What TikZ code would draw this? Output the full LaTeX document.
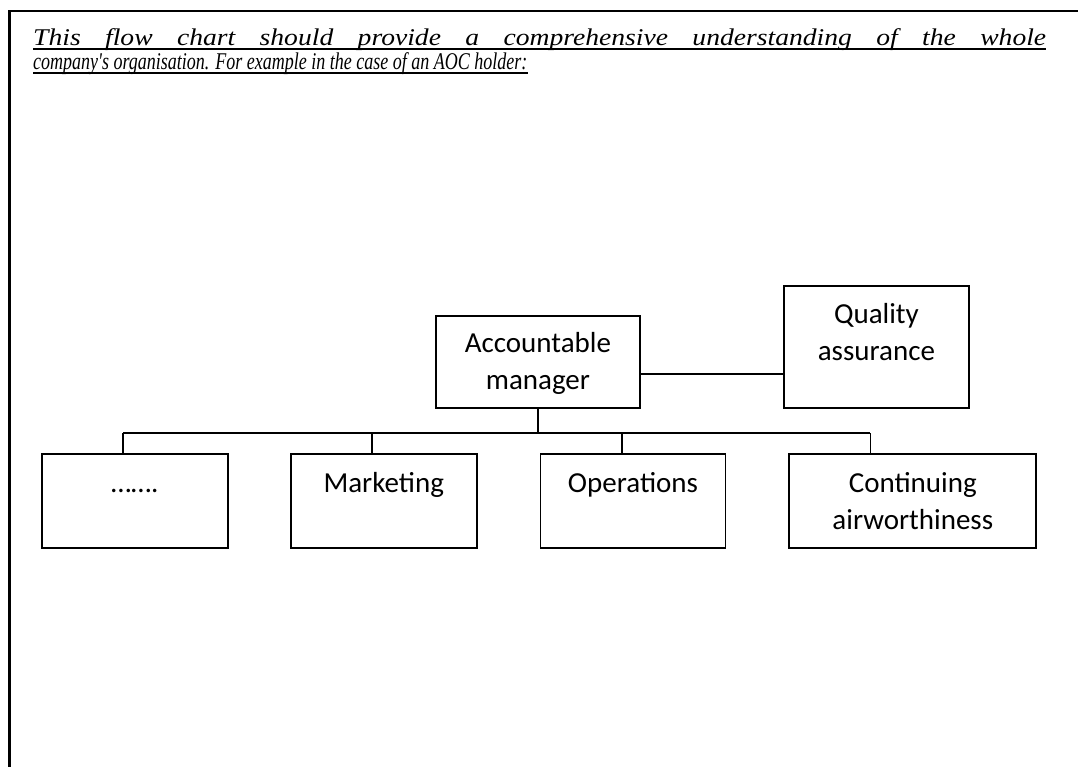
\documentclass[tikz,border=0pt]{standalone}
\usepackage{fontspec}
\setmainfont{Carlito}
\newfontfamily\titlewide[FakeStretch=1.15]{Liberation Serif}
\newfontfamily\titlenarrow[FakeStretch=0.75]{Liberation Serif}
\usetikzlibrary{positioning}
\tikzset{
  orgbox/.style={draw, line width=1.8pt, inner sep=0pt, align=center,
    text width=186pt, text height=39pt, text depth=55pt,
    font=\fontsize{29}{37}\selectfont},
  orgline/.style={line width=1.8pt},
  frameline/.style={line width=2.4pt},
  uline/.style={line width=1.5pt},
  titletext/.style={anchor=base west, inner sep=0pt}
}
\begin{document}
\begin{tikzpicture}[x=1pt,y=-1pt]
      \useasboundingbox (0,0) rectangle (1078,767);
      \draw[frameline] (9.5,767) |- (1078,11);

      \node (title1) [titletext, font=\titlewide\itshape\fontsize{24}{24}\selectfont] at (33,46)
        {\makebox[1013pt][s]{This flow chart should provide a comprehensive understanding of the whole}};
      \node (title2) [titletext, font=\titlenarrow\itshape\fontsize{24}{24}\selectfont] at (33,70)
        {company's organisation. For example in the case of an AOC holder:};
      \draw[uline] ([yshift=-3pt]title1.base west) -- ([yshift=-3pt]title1.base east);
      \draw[uline] ([yshift=-3pt]title2.base west) -- ([yshift=-3pt]title2.base east);

      \node (am) [orgbox, anchor=north west, text width=204pt,
        text height=36.7pt, text depth=55.3pt] at (435,315) {Accountable\\manager};
      \node (qa) [orgbox, anchor=north west, text width=185pt,
        text height=38pt, text depth=84pt] at (783,285) {Quality\\assurance};

      \node (dots) [orgbox, anchor=north west] at (41,453) {…….};
      \node (mkt) [orgbox, right=61pt of dots] {Marketing};
      \node (ops) [orgbox, text width=185pt, right=62pt of mkt] {Operations};
      \node (caw) [orgbox, text width=247pt, right=62pt of ops] {Continuing\\airworthiness};

      \draw[orgline] ([yshift=-12pt]am.east) -- ([yshift=-12pt]am.east -| qa.west);

      \coordinate (bus) at ([yshift=-24pt]am.south);
      \draw[orgline] (am.south) -- (bus);
      \foreach \b in {dots,mkt,ops,caw} {
        \coordinate (\b-in) at ([xshift=82pt]\b.north west);
        \draw[orgline] (\b-in) -- (\b-in |- bus);
      }
      \draw[orgline] (dots-in |- bus) -- (caw-in |- bus);
\end{tikzpicture}
\end{document}
